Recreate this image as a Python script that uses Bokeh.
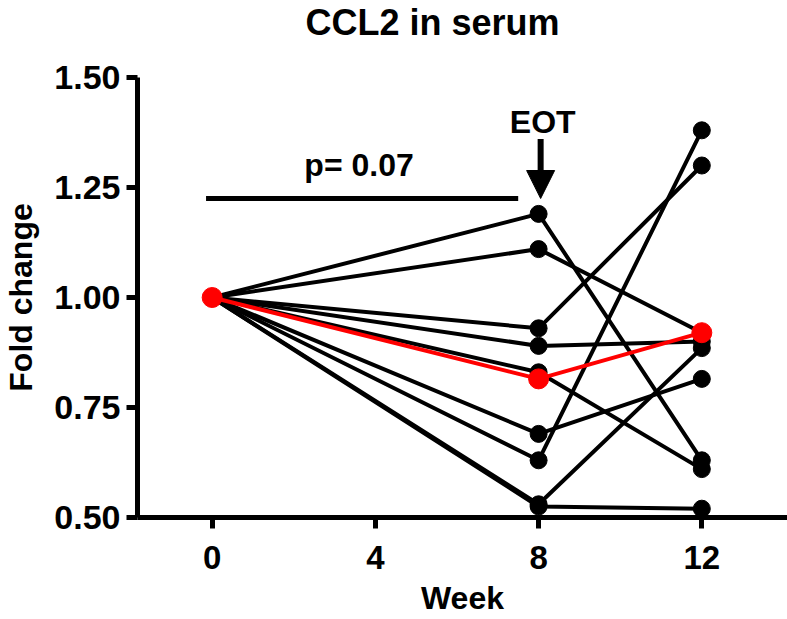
from bokeh.plotting import figure
from bokeh.models import Range1d, FixedTicker, Label, Arrow, NormalHead, ColumnDataSource, Title
from bokeh.embed import file_html
from bokeh.resources import INLINE

# ---- data ----
weeks = [0, 8, 12]
subjects = [
    [1.0, 1.19, 0.63],
    [1.0, 1.11, 0.92],
    [1.0, 0.93, 1.30],
    [1.0, 0.89, 0.90],
    [1.0, 0.83, 0.61],
    [1.0, 0.69, 0.815],
    [1.0, 0.63, 1.38],
    [1.0, 0.53, 0.885],
    [1.0, 0.525, 0.52],
]
mean_values = [1.0, 0.815, 0.92]
x_ticks = [0, 4, 8, 12]
y_ticks = [0.5, 0.75, 1.0, 1.25, 1.5]
y_tick_labels = ["0.50", "0.75", "1.00", "1.25", "1.50"]
title_text = "CCL2 in serum"
x_label = "Week"
y_label = "Fold change"
p_text = "p= 0.07"
p_text_pos = [3.6, 1.302]
p_bar = [-0.15, 7.5, 1.225]      # x0, x1, y
eot_text = "EOT"
eot_text_pos = [8.1, 1.40]
eot_arrow = [8.05, 1.36, 1.225]  # x, y_start, y_end

FONT = "Liberation Sans"

p = figure(width=787, height=619, output_backend="svg", toolbar_location=None,
           x_range=Range1d(-1.83, 14.1), y_range=Range1d(0.5, 1.5),
           min_border_left=134, min_border_right=0, min_border_top=77, min_border_bottom=102)
p.outline_line_color = None
p.grid.visible = False
p.background_fill_color = "white"
p.border_fill_color = "white"

# spacer between the frame and the title, so that the title sits at the top
p.add_layout(Title(text=" ", text_font_size="12px", standoff=17), "above")

p.title.text = title_text
p.title.text_font = FONT
p.title.text_font_size = "36px"
p.title.text_font_style = "bold"
p.title.text_color = "black"
p.title.align = "left"
p.title.offset = 168
p.title.standoff = 0
p.title.vertical_align = "top"

for ax in (p.xaxis[0], p.yaxis[0]):
    ax.axis_line_width = 5
    ax.axis_line_color = "black"
    ax.major_tick_line_width = 5
    ax.major_tick_line_color = "black"
    ax.major_tick_out = 11
    ax.major_tick_in = 0
    ax.minor_tick_out = 0
    ax.minor_tick_in = 0
    ax.major_label_text_font = FONT
    ax.major_label_text_font_style = "bold"
    ax.major_label_text_color = "black"
    ax.axis_label_text_font = FONT
    ax.axis_label_text_font_size = "32px"
    ax.axis_label_text_font_style = "bold"
    ax.axis_label_text_color = "black"

p.xaxis.major_label_text_font_size = "33px"
p.yaxis.major_label_text_font_size = "34px"
p.xaxis.ticker = FixedTicker(ticks=x_ticks)
p.yaxis.ticker = FixedTicker(ticks=y_ticks)
p.yaxis.major_label_overrides = {t: l for t, l in zip(y_ticks, y_tick_labels)}
p.xaxis.axis_label = x_label
p.yaxis.axis_label = y_label
p.xaxis.major_label_standoff = 17
p.xaxis.axis_label_standoff = 8
p.yaxis.major_label_standoff = 6
p.yaxis.axis_label_standoff = 12

# subject lines
for s in subjects:
    p.line(weeks, s, line_color="black", line_width=4)
for s in subjects:
    p.scatter(weeks, s, size=17, fill_color="black", line_color="black")

# mean line
p.line(weeks, mean_values, line_color="#ff0000", line_width=4)
p.scatter(weeks, mean_values, size=20, fill_color="#ff0000", line_color="#ff0000")

def add_text(x, y, text, size):
    p.add_layout(Label(x=x, y=y, text=text, text_align="center", text_baseline="middle",
                       text_font=FONT, text_font_size=size, text_font_style="bold",
                       text_color="black"))

# significance bar
bar_src = ColumnDataSource(dict(x0=[p_bar[0]], x1=[p_bar[1]], y=[p_bar[2]]))
p.segment(x0="x0", y0="y", x1="x1", y1="y", source=bar_src, line_color="black", line_width=5)
add_text(p_text_pos[0], p_text_pos[1], p_text, "32px")

# EOT arrow
p.add_layout(Arrow(x_start=eot_arrow[0], y_start=eot_arrow[1], x_end=eot_arrow[0], y_end=eot_arrow[2],
                   line_width=6, line_color="black",
                   end=NormalHead(size=28, fill_color="black", line_color="black", line_width=1)))
add_text(eot_text_pos[0], eot_text_pos[1], eot_text, "32px")

open("out.html", "w").write(file_html(p, INLINE))
